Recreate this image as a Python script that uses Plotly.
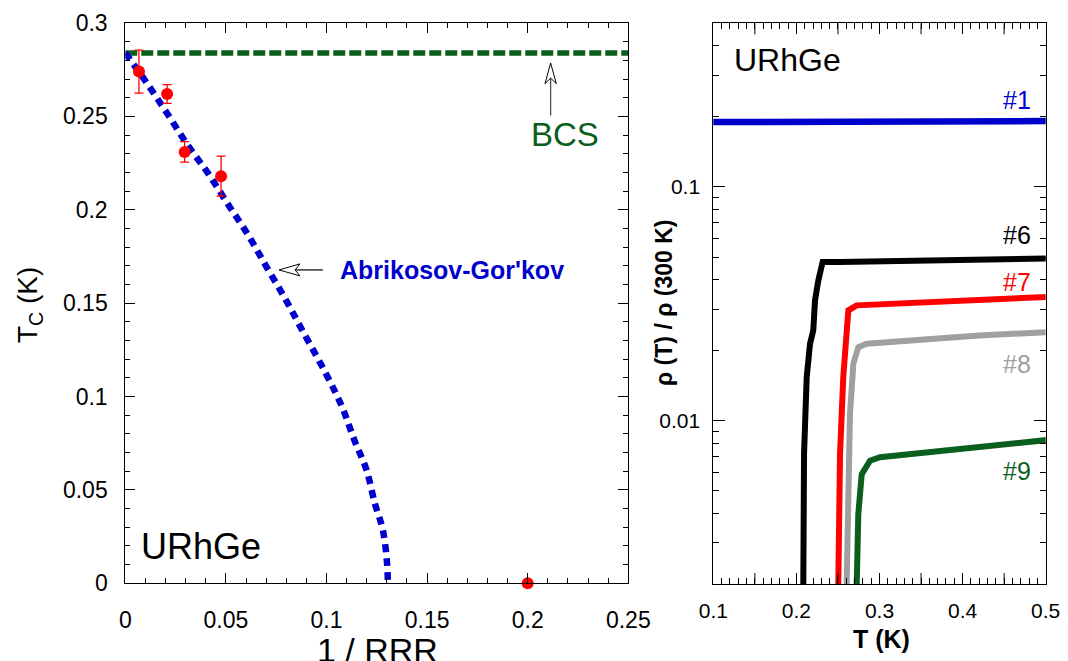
import numpy as np
import plotly.graph_objects as go

# ---------------- data: left panel ----------------
inv_rrr = [0.0068, 0.0208, 0.0295, 0.0476, 0.2]
tc_meas = [0.274, 0.262, 0.231, 0.218, 0.0]
tc_err = [0.0115, 0.005, 0.0055, 0.0107, 0.0]

ag_x = [0.0, 0.0106, 0.0207, 0.0309, 0.0411, 0.0512, 0.061, 0.0701, 0.0793,
        0.0874, 0.0996, 0.1077, 0.1138, 0.1199, 0.124, 0.128, 0.1301, 0.1305]
ag_y = [0.284, 0.268, 0.2518, 0.2348, 0.2196, 0.2027, 0.1866, 0.1696, 0.1527,
        0.1366, 0.1125, 0.0946, 0.0768, 0.0607, 0.0429, 0.0286, 0.0107, 0.0]

bcs_x = [0.0, 0.252]
bcs_y = [0.284, 0.284]

left_xticks = [0, 0.05, 0.1, 0.15, 0.2, 0.25]
left_xlabels = ["0", "0.05", "0.1", "0.15", "0.2", "0.25"]
left_yticks = [0, 0.05, 0.1, 0.15, 0.2, 0.25, 0.3]
left_ylabels = ["0", "0.05", "0.1", "0.15", "0.2", "0.25", "0.3"]

# ---------------- data: right panel ----------------
T1 = [0.097, 0.2, 0.3, 0.4, 0.503]
R1 = [0.189, 0.19, 0.19, 0.19, 0.191]

T6 = [0.2083, 0.2092, 0.2124, 0.2164, 0.2203, 0.2224, 0.2264, 0.2316, 0.2525, 0.30, 0.40, 0.502]
R6 = [0.002, 0.0072, 0.01535, 0.0213, 0.0243, 0.0327, 0.0398, 0.0477, 0.0477, 0.0481, 0.0487, 0.0493]

T7 = [0.2504, 0.2525, 0.2564, 0.2605, 0.2625, 0.2726, 0.30, 0.40, 0.502]
R7 = [0.002, 0.0072, 0.01535, 0.0243, 0.0296, 0.0311, 0.0314, 0.0326, 0.0338]

T8 = [0.2605, 0.2625, 0.2645, 0.2685, 0.2745, 0.2846, 0.35, 0.42, 0.502]
R8 = [0.002, 0.00469, 0.0107, 0.0175, 0.0206, 0.0213, 0.0223, 0.0231, 0.0239]

T9 = [0.2726, 0.2745, 0.2786, 0.2886, 0.3006, 0.40, 0.502]
R9 = [0.002, 0.00398, 0.0059, 0.00674, 0.00697, 0.0076, 0.00826]

right_xticks = [0.1, 0.2, 0.3, 0.4, 0.5]
right_xlabels = ["0.1", "0.2", "0.3", "0.4", "0.5"]
right_xmid = [0.15, 0.25, 0.35, 0.45]
right_yticks = [0.01, 0.1]
right_ylabels = ["0.01", "0.1"]
right_yminor = [0.002, 0.003, 0.004, 0.005, 0.006, 0.007, 0.008, 0.009,
                0.02, 0.03, 0.04, 0.05, 0.06, 0.07, 0.08, 0.09,
                0.2, 0.3, 0.4, 0.5]

FONT = "Liberation Sans, Arial, sans-serif"
BLUE = "#0000cc"
GREEN = "#0a5f1e"
RED = "#ff0000"
GRAY = "#a0a0a0"

fig = go.Figure()

# left panel traces
fig.add_trace(go.Scatter(x=bcs_x, y=bcs_y, mode="lines", xaxis="x", yaxis="y",
                         line=dict(color=GREEN, width=5.5, dash="12px,4px"),
                         cliponaxis=False, showlegend=False))
fig.add_trace(go.Scatter(x=ag_x, y=ag_y, mode="lines", xaxis="x", yaxis="y",
                         line=dict(color=BLUE, width=6.5, dash="8px,6px", shape="spline"),
                         cliponaxis=False, showlegend=False))
fig.add_trace(go.Scatter(x=inv_rrr, y=tc_meas, mode="markers", xaxis="x", yaxis="y",
                         marker=dict(color=RED, size=12),
                         error_y=dict(type="data", array=tc_err, visible=True,
                                      color=RED, thickness=1.3, width=4.5),
                         cliponaxis=False, showlegend=False))

# right panel traces
for T, R, c, w in [(T1, R1, BLUE, 6.5), (T6, R6, "black", 6), (T7, R7, RED, 6),
                   (T8, R8, GRAY, 6), (T9, R9, GREEN, 6)]:
    fig.add_trace(go.Scatter(x=T, y=R, mode="lines", xaxis="x2", yaxis="y2",
                             line=dict(color=c, width=w), cliponaxis=False,
                             showlegend=False))

axis_common = dict(showline=True, linecolor="black", linewidth=1, mirror="allticks",
                   ticks="inside", tickcolor="black", tickwidth=1,
                   showgrid=False, zeroline=False, automargin=False,
                   tickfont=dict(family=FONT, size=23, color="black"))
right_font = dict(family=FONT, size=21, color="black")

fig.update_layout(
    width=1068, height=661,
    margin=dict(l=0, r=0, t=0, b=0, pad=0, autoexpand=False),
    paper_bgcolor="white", plot_bgcolor="white",
    font=dict(family=FONT, color="black"),
    xaxis=dict(domain=[0.1173, 0.5883], range=[0, 0.25], anchor="y",
               tickmode="array", tickvals=left_xticks, ticktext=left_xlabels,
               ticklen=10, ticklabelstandoff=16,
               minor=dict(tickmode="array", tickvals=[i / 100 for i in range(26)],
                          ticks="inside", ticklen=5, tickcolor="black", tickwidth=1),
               **axis_common),
    yaxis=dict(domain=[0.1175, 0.9652], range=[0, 0.3], anchor="x",
               tickmode="array", tickvals=left_yticks, ticktext=left_ylabels,
               ticklen=10, ticklabelstandoff=12,
               minor=dict(tickmode="array", tickvals=[i / 100 for i in range(31)],
                          ticks="inside", ticklen=5, tickcolor="black", tickwidth=1),
               **axis_common),
    xaxis2=dict(domain=[0.6679, 0.9791], range=[0.1, 0.5], anchor="y2",
                tickmode="array", tickvals=right_xticks, ticktext=right_xlabels,
                ticklen=11, ticklabelstandoff=8,
                minor=dict(tickmode="array", tickvals=[0.1 + i / 100 for i in range(41)],
                           ticks="inside", ticklen=6, tickcolor="black", tickwidth=1),
                **{**axis_common, "tickfont": right_font}),
    yaxis2=dict(domain=[0.1165, 0.9647], type="log",
                range=[np.log10(0.002), np.log10(0.5)], anchor="x2",
                tickmode="array", tickvals=right_yticks, ticktext=right_ylabels,
                ticklen=12, ticklabelstandoff=8,
                minor=dict(tickmode="array", tickvals=right_yminor,
                           ticks="inside", ticklen=6, tickcolor="black", tickwidth=1),
                **{**axis_common, "tickfont": right_font}),
)

ann = []
# left panel text
ann.append(dict(x=0.2185, y=0.2402, xref="x", yref="y", text="BCS", showarrow=False,
                xanchor="center", yanchor="middle",
                font=dict(family=FONT, size=33, color=GREEN)))
ann.append(dict(x=0.1057, y=0.1678, xref="x", yref="y", text="<b>Abrikosov-Gor'kov</b>",
                showarrow=False, xanchor="left", yanchor="middle",
                font=dict(family=FONT, size=25, color=BLUE)))
ann.append(dict(x=0.007, y=0.0196, xref="x", yref="y", text="URhGe", showarrow=False,
                xanchor="left", yanchor="middle",
                font=dict(family=FONT, size=36, color="black")))
# right panel text
ann.append(dict(x=0.122, y=np.log10(0.349), xref="x2", yref="y2", text="URhGe",
                showarrow=False, xanchor="left", yanchor="middle",
                font=dict(family=FONT, size=32, color="black")))
for txt, yv, c in [("#1", 0.235, BLUE), ("#6", 0.0621, "black"), ("#7", 0.0392, RED),
                   ("#8", 0.0175, GRAY), ("#9", 0.0061, GREEN)]:
    ann.append(dict(x=0.485, y=np.log10(yv), xref="x2", yref="y2", text=txt,
                    showarrow=False, xanchor="right", yanchor="middle",
                    font=dict(family=FONT, size=25, color=c)))
# axis titles
ann.append(dict(x=29 / 1068, y=1 - 305 / 661, xref="paper", yref="paper",
                text="T<sub>C</sub> (K)", textangle=-90, showarrow=False,
                xanchor="center", yanchor="middle",
                font=dict(family=FONT, size=28, color="black")))
ann.append(dict(x=377 / 1068, y=1 - 650 / 661, xref="paper", yref="paper", text="1 / RRR",
                showarrow=False, xanchor="center", yanchor="middle",
                font=dict(family=FONT, size=34, color="black")))
ann.append(dict(x=881 / 1068, y=1 - 639 / 661, xref="paper", yref="paper",
                text="<b>T (K)</b>", showarrow=False, xanchor="center", yanchor="middle",
                font=dict(family=FONT, size=25, color="black")))
ann.append(dict(x=664 / 1068, y=1 - 303 / 661, xref="paper", yref="paper",
                text="<b>ρ (T) / ρ (300 K)</b>", textangle=-90, showarrow=False,
                xanchor="center", yanchor="middle",
                font=dict(family=FONT, size=23, color="black")))
fig.update_layout(annotations=ann)

# arrows (shaft + open arrowhead) and medium ticks
shapes = []
bx = 0.2114
shapes.append(dict(type="line", xref="x", yref="y", x0=bx, x1=bx, y0=0.2505, y1=0.2705,
                   line=dict(color="#444444", width=1.2)))
hw = 0.00283
shapes.append(dict(type="path", xref="x", yref="y",
                   path=f"M {bx},{0.2786} L {bx - hw},{0.2675} L {bx},{0.2705} L {bx + hw},{0.2675} Z",
                   line=dict(color="black", width=1), fillcolor="white"))
ay = 0.1678
shapes.append(dict(type="line", xref="x", yref="y", x0=0.0844, x1=0.0982, y0=ay, y1=ay,
                   line=dict(color="black", width=1.2)))
hh = 0.00321
shapes.append(dict(type="path", xref="x", yref="y",
                   path=f"M 0.0764,{ay} L 0.0868,{ay + hh} L 0.0844,{ay} L 0.0868,{ay - hh} Z",
                   line=dict(color="black", width=1), fillcolor="white"))
for xv in right_xmid:
    shapes.append(dict(type="line", xref="x2", yref="y2 domain", x0=xv, x1=xv,
                       y0=0, y1=0.0196, line=dict(color="black", width=1)))
    shapes.append(dict(type="line", xref="x2", yref="y2 domain", x0=xv, x1=xv,
                       y0=1, y1=1 - 0.0196, line=dict(color="black", width=1)))
fig.update_layout(shapes=shapes)

fig.write_html(
    "out.html",
    config={"displayModeBar": False},
    post_script="document.body.style.margin='0';document.body.style.overflow='hidden';",
)
